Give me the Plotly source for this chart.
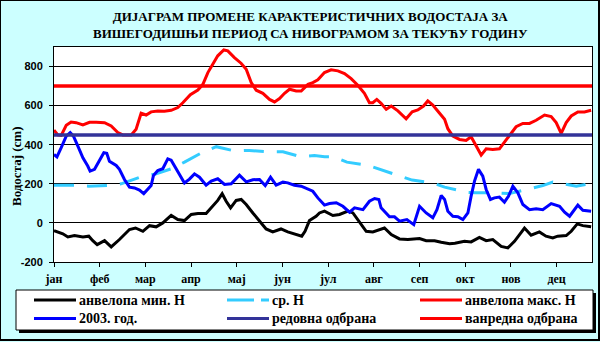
import plotly.graph_objects as go

# ---------------- data ----------------
month_labels = ["јан", "феб", "мар", "апр", "мај", "јун", "јул", "авг", "сеп", "окт", "нов", "дец"]
month_start_days = [0, 31, 62, 93, 124, 155, 186, 217, 248, 279, 310, 341]

min_days = [0, 6, 9.4, 13.9, 19.6, 23.6, 26.3, 29.3, 34.3, 38.8, 44.4, 51.2, 55.3, 60.3, 64.8, 69.3, 73.8,
            79.5, 84, 88.5, 93.1, 97.6, 103.2, 106.7, 111.1, 114.1, 116.8, 119.8, 123.6, 127, 130.4, 134.9,
            139.4, 143.9, 148.4, 154, 158.6, 163.1, 168.1, 170.3, 173.3, 177.8, 180.1, 183.5, 189.2, 193.7,
            199.4, 202.8, 207.3, 211.8, 216.3, 220.8, 224.2, 228.8, 234.4, 240.1, 248, 252.5, 258.2, 262.7,
            268.4, 272, 278.5, 283, 288.6, 293.2, 297.7, 303.4, 307.9, 312.4, 315.8, 319.2, 323.7, 329.3,
            333.8, 338.4, 341.7, 347.5, 350.9, 355, 358.8, 364.4]
min_vals = [-39, -56, -72, -65, -72, -68, -91, -111, -91, -123, -85, -34, -26, -43, -14, -20, 0,
            38, 17, 12, 43, 48, 48, 77, 115, 149, 111, 77, 115, 120, 94, 51,
            9, -31, -46, -31, -46, -56, -68, -43, 12, 34, 51, 60, 38, 43,
            60, 51, 3, -43, -46, -34, -26, -60, -82, -85, -80, -91, -91, -99,
            -106, -104, -94, -97, -74, -91, -85, -120, -128, -94, -60, -26, -63, -46,
            -68, -77, -68, -65, -43, -5, -14, -20]

mean_days = [0, 13.9, 23.6, 36.5, 45.5, 58.5, 69.3, 79.5, 88.5, 91.9, 101, 110.1, 122.4, 132.6, 145.1,
             155.3, 167.7, 176.7, 183.6, 190.3, 198.7, 212.3, 221.4, 234, 243, 257, 265, 275.1, 278.5,
             286.4, 300, 309, 322.6, 331.6, 338.4, 345.2, 354.3, 364.4]
mean_vals = [193, 193, 188, 191, 200, 234, 251, 277, 311, 325, 362, 390, 368, 371, 364,
             364, 338, 345, 338, 338, 311, 296, 274, 244, 219, 205, 183, 166, 157,
             154, 154, 150, 176, 191, 209, 200, 188, 202]

max_days = [0, 2.6, 4.9, 8.3, 11.6, 15, 19.6, 24.1, 28.6, 34.3, 38.8, 43.3, 46.7, 52.4, 55.7, 59.1, 62.5,
            65.9, 70.4, 74.9, 79.5, 84, 87.4, 92.5, 97.6, 101, 104.4, 107.9, 111.1, 115.2, 117.9, 122.4,
            126.9, 130.4, 133.8, 137.2, 141.7, 146.2, 149.6, 153, 156.4, 159.8, 164.3, 167.7, 172.3, 175.6,
            179, 183.5, 188, 192.6, 197.1, 201.6, 206.1, 210.6, 214, 216.3, 219, 221.9, 225.4, 228.8, 233.3,
            238.9, 243, 246.8, 250.7, 253.6, 257, 261.6, 265, 267.2, 270.6, 275.1, 279.6, 283, 286.4, 289.8,
            293.2, 297.7, 302.2, 306.7, 310.1, 313.5, 318.1, 322.6, 327.1, 332.8, 337.3, 340.7, 344.1, 347.5,
            350.9, 355.4, 359.9, 364.4]
max_vals = [475, 450, 448, 499, 516, 513, 501, 515, 515, 513, 496, 462, 450, 450, 479, 561, 552,
            568, 573, 571, 576, 590, 615, 656, 680, 709, 769, 817, 855, 885, 880, 846,
            817, 786, 718, 679, 663, 632, 619, 636, 663, 684, 675, 675, 709, 718,
            732, 769, 783, 778, 764, 738, 704, 663, 615, 615, 632, 612, 581, 598, 573,
            533, 569, 578, 598, 624, 603, 561, 530, 482, 444, 427, 422, 441, 397, 347,
            379, 376, 379, 424, 453, 492, 509, 509, 525, 552, 544, 513, 458, 513,
            547, 568, 568, 576]

y2003_days = [0, 2, 4.9, 8.3, 11, 13.2, 16.2, 19.6, 22.9, 24.5, 27.5, 30.9, 33.8, 35.8, 37.6, 42.2, 44.4,
              47.8, 51.2, 54.6, 58, 60.9, 63.7, 65.9, 67.5, 70.4, 73.8, 77.2, 79.5, 82.9, 86.3, 88.5, 91.9,
              95.3, 98.7, 103.2, 106.7, 111.1, 115.7, 120.2, 125.8, 130.4, 134.9, 139.4, 143.3, 146.9, 150.7,
              155.3, 158.6, 163.1, 167.7, 172.3, 175.6, 179, 183.5, 186.9, 191.5, 196, 200.5, 203.9, 209.6,
              214, 217.5, 220.4, 221.9, 227.6, 231, 234.4, 239.4, 244.1, 248, 252.5, 257, 259.8, 262.7, 265,
              267.2, 270.6, 274, 277.4, 280.8, 283, 285.3, 288, 290.9, 293.2, 296.1, 298.8, 302.2, 305.6,
              308.4, 311.3, 314.7, 318.1, 322.6, 327.1, 331.6, 337.3, 343, 346.4, 349.8, 355.4, 358.8, 364.4]
y2003_vals = [350, 338, 385, 444, 462, 444, 393, 333, 291, 265, 274, 316, 359, 356, 316, 294, 274,
              222, 183, 179, 168, 150, 174, 191, 243, 268, 277, 328, 321, 274, 231, 204, 224,
              251, 234, 193, 214, 226, 197, 200, 244, 210, 221, 222, 191, 234, 193,
              209, 205, 193, 188, 171, 162, 128, 91, 99, 103, 85, 55, 77, 68,
              111, 125, 120, 77, 31, 31, 9, 17, -9, 85, 51, 26, 68, 140, 120,
              60, 34, 32, 17, 51, 137, 214, 274, 239, 171, 120, 128, 132, 106,
              137, 188, 154, 94, 68, 72, 68, 99, 85, 55, 34, 91, 65, 60]

regular_defence = 450
emergency_defence = 700
year_span = [0, 365]

series_names = ["анвелопа мин. Н", "ср. Н", "анвелопа макс. Н",
                "2003. год.", "редовна одбрана", "ванредна одбрана"]
series_colors = ["#000000", "#33CCFF", "#FF0000", "#0000FF", "#333399", "#FF0000"]
series_dashes = ["solid", "20px,13px", "solid", "solid", "solid", "solid"]

# ---------------- figure ----------------
W, H = 600, 342
L, R, T, B = 54, 8, 47, 80
PW, PH = W - L - R, H - T - B


def px_x(p):
    return (p - L) / PW


def px_y(p):
    return (H - B - p) / PH


serif = "Liberation Serif"
sans = "Liberation Sans"

xs = [min_days, mean_days, max_days, y2003_days, year_span, year_span]
ys = [min_vals, mean_vals, max_vals, y2003_vals, [regular_defence] * 2, [emergency_defence] * 2]
widths = [3, 3, 3, 3, 3.5, 3.5]

fig = go.Figure()
for x, y, n, c, d, w in zip(xs, ys, series_names, series_colors, series_dashes, widths):
    fig.add_trace(go.Scatter(x=x, y=y, mode="lines", name=n, showlegend=False,
                             line=dict(color=c, width=w, dash=d)))

shapes = [
    dict(type="rect", xref="paper", yref="paper", x0=px_x(0), x1=px_x(599), y0=px_y(0), y1=px_y(340),
         line=dict(color="black", width=2), fillcolor="rgba(0,0,0,0)", layer="above"),
    dict(type="rect", xref="paper", yref="paper", x0=px_x(19), x1=px_x(596), y0=px_y(293), y1=px_y(333),
         line=dict(color="black", width=0), fillcolor="black", layer="below"),
    dict(type="rect", xref="paper", yref="paper", x0=px_x(16), x1=px_x(593), y0=px_y(290), y1=px_y(330),
         line=dict(color="black", width=1), fillcolor="white", layer="below"),
]

annotations = [
    dict(text="<b>ДИЈАГРАМ ПРОМЕНЕ КАРАКТЕРИСТИЧНИХ ВОДОСТАЈА ЗА<br>ВИШЕГОДИШЊИ ПЕРИОД СА НИВОГРАМОМ ЗА ТЕКУЋУ ГОДИНУ</b>",
         xref="paper", yref="paper", x=px_x(310), y=px_y(24.5), xanchor="center", yanchor="middle",
         showarrow=False, font=dict(family=serif, size=13, color="black")),
    dict(text="<b>Водостај (cm)</b>", xref="paper", yref="paper", x=px_x(16), y=px_y(166),
         xanchor="center", yanchor="middle", textangle=-90, showarrow=False,
         font=dict(family=serif, size=13, color="black")),
]

# manual legend in three columns, two rows
col_x = [34, 227, 420]
row_y = [300, 318.5]
for i, (n, c, d) in enumerate(zip(series_names, series_colors, series_dashes)):
    cx = col_x[i % 3]
    ry = row_y[i // 3]
    shapes.append(dict(type="line", xref="paper", yref="paper", x0=px_x(cx), x1=px_x(cx + 42),
                       y0=px_y(ry), y1=px_y(ry),
                       line=dict(color=c, width=3, dash=d if d == "solid" else "27px,7px")))
    annotations.append(dict(text="<b>" + n + "</b>", xref="paper", yref="paper", x=px_x(cx + 43),
                            y=px_y(ry), xanchor="left", yanchor="middle", showarrow=False,
                            font=dict(family=serif, size=14, color="black")))

fig.update_layout(
    width=W, height=H,
    margin=dict(l=L, r=R, t=T, b=B),
    paper_bgcolor="#CCFFFF",
    plot_bgcolor="white",
    showlegend=False,
    shapes=shapes,
    annotations=annotations,
)

fig.update_xaxes(range=year_span, tickmode="array", tickvals=month_start_days,
                 ticktext=["<b>" + m + "</b>" for m in month_labels],
                 ticks="outside", ticklen=4, tickcolor="black", showgrid=False, zeroline=False,
                 showline=True, linecolor="black", linewidth=1, mirror=True, ticklabelstandoff=2,
                 tickfont=dict(family=serif, size=12, color="black"))
fig.update_yaxes(range=[-200, 900], tickmode="array", tickvals=[-200, 0, 200, 400, 600, 800],
                 ticktext=["<b>%d</b>" % v for v in [-200, 0, 200, 400, 600, 800]],
                 ticks="outside", ticklen=4, tickcolor="black", showgrid=True, gridcolor="black",
                 gridwidth=1, zeroline=False, showline=True, linecolor="black", linewidth=1, mirror=True,
                 ticklabelstandoff=4,
                 tickfont=dict(family=sans, size=11, color="black"))

fig.write_html("out.html")
